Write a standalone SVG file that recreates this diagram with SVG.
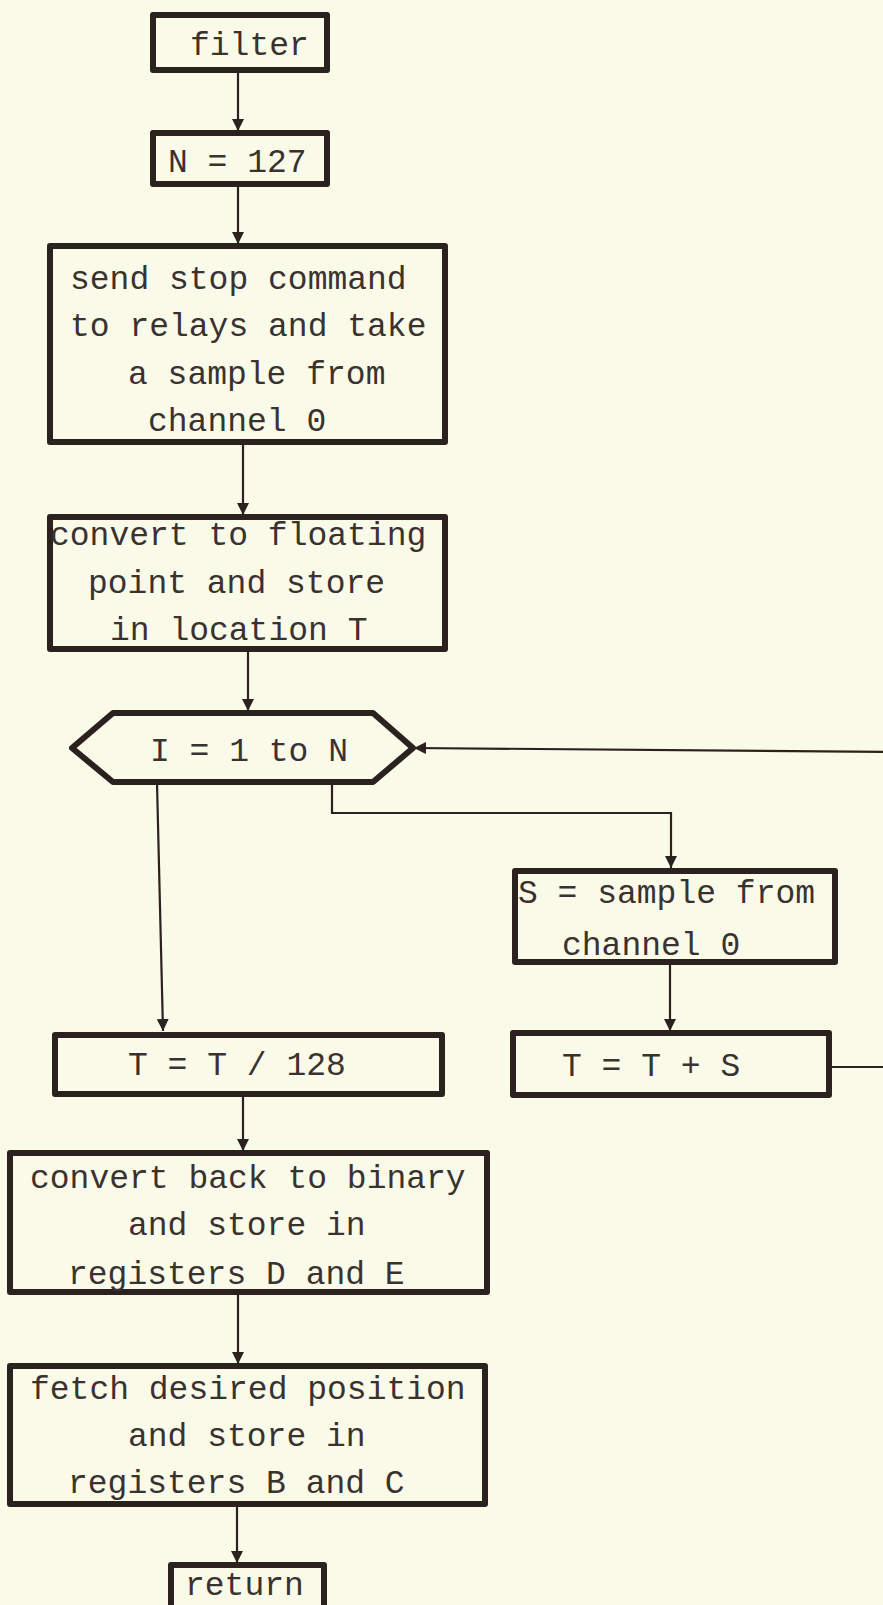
<svg xmlns="http://www.w3.org/2000/svg" width="883" height="1605" viewBox="0 0 883 1605">
  <style>
    .box { fill: none; stroke: #2b2220; stroke-width: 6; stroke-linejoin: round; }
    .lbl { font-family: "Liberation Mono", "DejaVu Sans Mono", monospace; font-size: 33px; fill: #3a3230; }
    .wire { fill: none; stroke: #2b2220; stroke-width: 2.2; }
  </style>
  <defs>
    <marker id="arrow" markerUnits="userSpaceOnUse" markerWidth="12" markerHeight="12" viewBox="0 0 10 10" refX="10" refY="5" orient="auto">
      <path d="M0,0 L10,5 L0,10 z" fill="#2b2220"/>
    </marker>
  </defs>
  <rect width="883" height="1605" fill="#fafae9"/>

  <!-- connectors -->
  <g id="connectors">
    <path class="wire" d="M238,73 V131" marker-end="url(#arrow)"/>
    <path class="wire" d="M238,187 V244" marker-end="url(#arrow)"/>
    <path class="wire" d="M243,444 V515" marker-end="url(#arrow)"/>
    <path class="wire" d="M248,652 V711" marker-end="url(#arrow)"/>
    <path class="wire" d="M157,783 L163,1031" marker-end="url(#arrow)"/>
    <path class="wire" d="M332,783 V813 H671 V868" marker-end="url(#arrow)"/>
    <path class="wire" d="M670,965 V1031" marker-end="url(#arrow)"/>
    <path class="wire" d="M832,1067 H900 V752 L414,748" marker-end="url(#arrow)"/>
    <path class="wire" d="M243,1097 V1151" marker-end="url(#arrow)"/>
    <path class="wire" d="M238,1295 V1364" marker-end="url(#arrow)"/>
    <path class="wire" d="M237,1507 V1563" marker-end="url(#arrow)"/>
  </g>

  <g id="filter">
    <rect class="box" x="153" y="15" width="174" height="55"/>
    <text class="lbl" x="190" y="55">filter</text>
  </g>

  <g id="set-n">
    <rect class="box" x="153" y="133" width="174" height="51"/>
    <text class="lbl" x="168" y="172">N = 127</text>
  </g>

  <g id="stop-relays">
    <rect class="box" x="50" y="246" width="395" height="196"/>
    <text class="lbl" x="70" y="289">send stop command</text>
    <text class="lbl" x="70" y="336">to relays and take</text>
    <text class="lbl" x="128" y="384">a sample from</text>
    <text class="lbl" x="148" y="431">channel 0</text>
  </g>

  <g id="to-float">
    <rect class="box" x="50" y="517" width="395" height="132"/>
    <text class="lbl" x="50" y="545">convert to floating</text>
    <text class="lbl" x="88" y="593">point and store</text>
    <text class="lbl" x="110" y="640">in location T</text>
  </g>

  <g id="loop">
    <polygon class="box" points="72,748 113,713 373,713 413,748 373,782 113,782"/>
    <text class="lbl" x="150" y="761">I = 1 to N</text>
  </g>

  <g id="sample">
    <rect class="box" x="515" y="871" width="320" height="91"/>
    <text class="lbl" x="518" y="903">S = sample from</text>
    <text class="lbl" x="562" y="955">channel 0</text>
  </g>

  <g id="accumulate">
    <rect class="box" x="513" y="1033" width="316" height="62"/>
    <text class="lbl" x="562" y="1076">T = T + S</text>
  </g>

  <g id="average">
    <rect class="box" x="55" y="1035" width="387" height="59"/>
    <text class="lbl" x="128" y="1075">T = T / 128</text>
  </g>

  <g id="to-binary">
    <rect class="box" x="10" y="1153" width="477" height="139"/>
    <text class="lbl" x="30" y="1188">convert back to binary</text>
    <text class="lbl" x="128" y="1235">and store in</text>
    <text class="lbl" x="68" y="1284">registers D and E</text>
  </g>

  <g id="fetch-position">
    <rect class="box" x="10" y="1366" width="475" height="138"/>
    <text class="lbl" x="30" y="1399">fetch desired position</text>
    <text class="lbl" x="128" y="1446">and store in</text>
    <text class="lbl" x="68" y="1493">registers B and C</text>
  </g>

  <g id="return">
    <rect class="box" x="171" y="1565" width="153" height="50"/>
    <text class="lbl" x="185" y="1595">return</text>
  </g>
</svg>
